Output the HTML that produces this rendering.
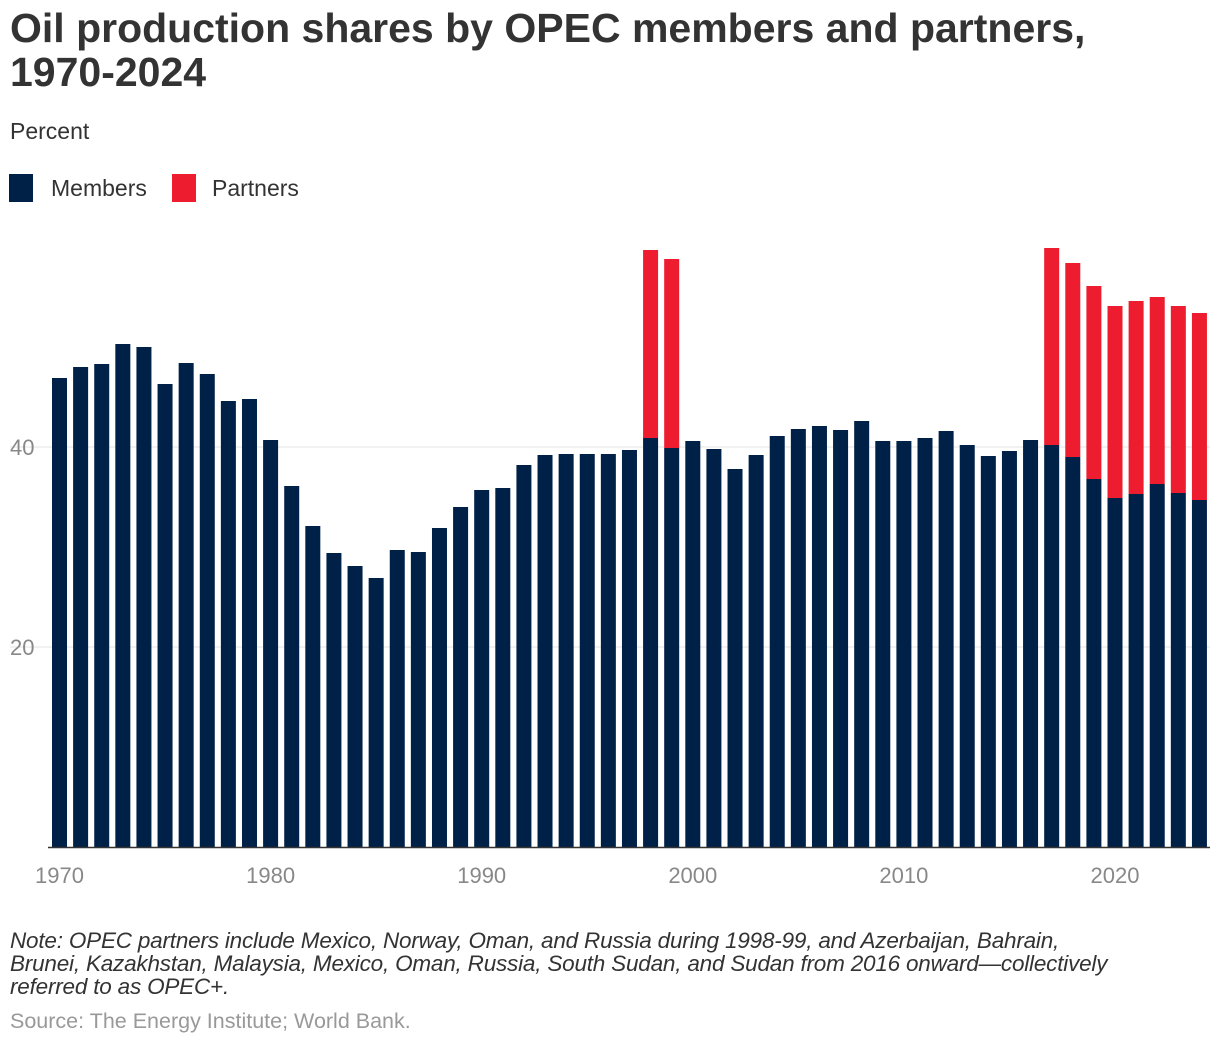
<!DOCTYPE html>
<html><head><meta charset="utf-8"><style>
body{margin:0;width:1220px;height:1044px;background:#fff;font-family:"Liberation Sans",Arial,sans-serif;position:relative;overflow:hidden}
.t{position:absolute;left:10px;top:6px;font-size:41px;font-weight:bold;color:#333;line-height:44px;letter-spacing:0px;margin:0;white-space:nowrap}
.ab{position:absolute}
</style></head><body>
<h1 class="t">Oil production shares by OPEC members and partners,<br>1970-2024</h1>
<div class="ab" style="left:10px;top:118px;font-size:23px;color:#333">Percent</div>
<div class="ab" style="left:9px;top:174px;height:28px;display:flex;align-items:center;font-size:23px;color:#333"><span style="width:24px;height:28px;background:#002147;display:inline-block;margin-right:18px"></span>Members</div>
<div class="ab" style="left:172px;top:174px;height:28px;display:flex;align-items:center;font-size:23px;color:#333"><span style="width:24px;height:28px;background:#ed1c2e;display:inline-block;margin-right:16px"></span>Partners</div>
<svg id="chart" class="ab" style="left:0;top:0" width="1220" height="1044"></svg>
<div class="ab" style="left:10px;top:929px;width:1200px;font-size:22.5px;font-style:italic;color:#333;line-height:23px;letter-spacing:-0.2px">Note: OPEC partners include Mexico, Norway, Oman, and Russia during 1998-99, and Azerbaijan, Bahrain,<br>Brunei, Kazakhstan, Malaysia, Mexico, Oman, Russia, South Sudan, and Sudan from 2016 onward—collectively<br>referred to as OPEC+.</div>
<div class="ab" style="left:10px;top:1009px;font-size:21.5px;color:#999">Source: The Energy Institute; World Bank.</div>
<script>
const years=[];for(let y=1970;y<=2024;y++)years.push(y);
const members=[46.9,48.0,48.3,50.3,50.0,46.3,48.4,47.3,44.6,44.8,40.7,36.1,32.1,29.4,28.1,26.9,29.7,29.5,31.9,34.0,35.7,35.9,38.2,39.2,39.3,39.3,39.3,39.7,40.9,39.9,40.6,39.8,37.8,39.2,41.1,41.8,42.1,41.7,42.6,40.6,40.6,40.9,41.6,40.2,39.1,39.6,40.7,40.2,39.0,36.8,34.9,35.3,36.3,35.4,34.7];
const partners=[0,0,0,0,0,0,0,0,0,0,0,0,0,0,0,0,0,0,0,0,0,0,0,0,0,0,0,0,18.8,18.9,0,0,0,0,0,0,0,0,0,0,0,0,0,0,0,0,0,19.7,19.4,19.3,19.2,19.3,18.7,18.7,18.7];
const yTicks=[20,40];
const xTicks=[1970,1980,1990,2000,2010,2020];
const svg=document.getElementById('chart');const NS='http://www.w3.org/2000/svg';
const x=yr=>59.5+(yr-1970)*21.11;
const y=v=>847-v*10;
function mk(t,a){const e=document.createElementNS(NS,t);for(const k in a)e.setAttribute(k,a[k]);svg.appendChild(e);return e;}
yTicks.forEach(v=>{
const l=mk('line',{x1:10,x2:1210,y1:y(v),y2:y(v),stroke:'#e3e3e3','stroke-width':1});


const t=mk('text',{x:10,y:y(v)+8,'font-size':22,fill:'#888','font-family':'Liberation Sans, sans-serif'});t.textContent=v;


});
years.forEach((yr,i)=>{
const b=mk('rect',{x:x(yr)-7.5,width:15,y:y(members[i]),height:members[i]*10,fill:'#002147'});


if(partners[i]>0){
const p=mk('rect',{x:x(yr)-7.5,width:15,y:y(members[i]+partners[i]),height:partners[i]*10,fill:'#ed1c2e'});


}
});
const ax=mk('line',{x1:48,x2:1210,y1:847.5,y2:847.5,stroke:'#333','stroke-width':1.5});


xTicks.forEach(v=>{
const t=mk('text',{x:x(v),y:883,'font-size':22,fill:'#888','text-anchor':'middle','font-family':'Liberation Sans, sans-serif'});t.textContent=v;


});
</script>
</body></html>
